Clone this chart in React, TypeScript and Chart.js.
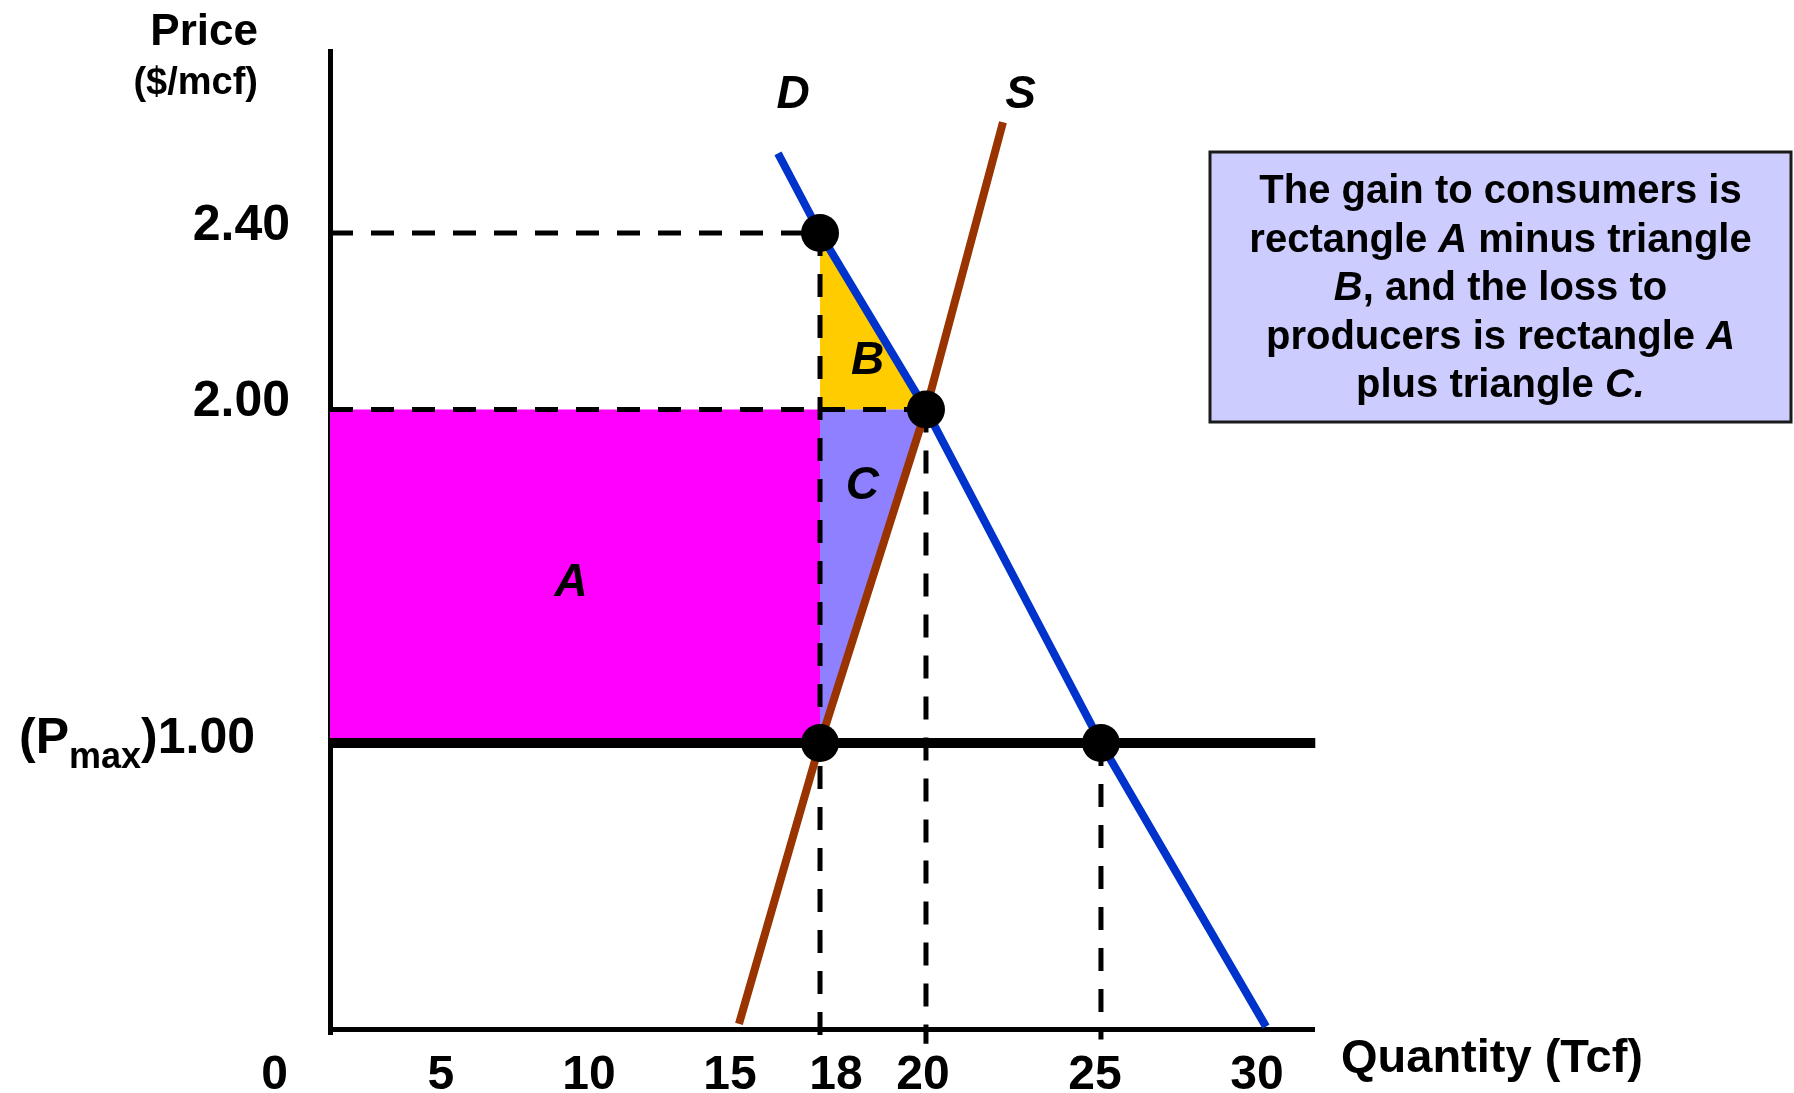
import React, { useEffect, useRef } from 'react';
import { Chart, registerables, LinearScale } from 'chart.js';

// Natural gas price ceiling: demand, supply and the welfare areas A, B, C.

const Q_TICKS = [0, 5, 10, 15, 18, 20, 25, 30]; // Tcf
const P_TICKS = [1.0, 2.0, 2.4]; // $/mcf

const DEMAND_Q = [16.6, 18, 20, 25, 30];
const DEMAND_P = [2.58, 2.4, 2.0, 1.0, 0.01];
const SUPPLY_Q = [15.3, 18, 20, 22.2];
const SUPPLY_P = [0.02, 1.0, 2.0, 2.65];

const P_MAX = 1.0;
const Q_LIMIT = 31.5;

// marked points: demand at 18, equilibrium, supply at Pmax, demand at Pmax
const MARKED_Q = [18, 20, 18, 25];
const MARKED_P = [2.4, 2.0, 1.0, 1.0];

// dashed guide lines
const GUIDE_H_P = [2.4, 2.0];
const GUIDE_H_Q = [18, 20];
const GUIDE_V_Q = [18, 20, 25];
const GUIDE_V_TOP = [2.4, 2.0, 1.0];
const GUIDE_V_BOTTOM = [-0.03, -0.05, -0.035];

// area labels and curve labels
const TAGS = ['A', 'B', 'C', 'D', 'S'];
const TAG_Q = [9.4, 18.9, 18.8, 17.1, 22.7];
const TAG_P = [1.48, 2.11, 1.77, 2.71, 2.71];

const NOTE_LINES: [string, boolean][][] = [
  [['The gain to consumers is', false]],
  [['rectangle ', false], ['A', true], [' minus triangle', false]],
  [['B', true], [', and the loss to', false]],
  [['producers is rectangle ', false], ['A', true]],
  [['plus triangle ', false], ['C.', true]],
];

const FONT = "'Liberation Sans', Arial, Helvetica, sans-serif";

function interp(xs: number[], ys: number[], v: number): number {
  const n = xs.length;
  let i = 1;
  while (i < n - 1 && v > xs[i]) i++;
  const x0 = xs[i - 1];
  const x1 = xs[i];
  return ys[i - 1] + ((v - x0) * (ys[i] - ys[i - 1])) / (x1 - x0);
}

// Linear scale whose value-to-position mapping is piecewise linear between knots
class PiecewiseScale extends LinearScale {
  static id = 'piecewise';
  static defaults = {};

  getPixelForValue(value: number) {
    if (value === null || value === undefined || Number.isNaN(value)) return NaN;
    const o: any = this.options;
    return this.getPixelForDecimal(interp(o.knots, o.fractions, value));
  }

  getValueForPixel(pixel: number) {
    const o: any = this.options;
    return interp(o.fractions, o.knots, this.getDecimalForPixel(pixel));
  }

  getPixelForTick(index: number) {
    const ticks = this.ticks;
    if (index < 0 || index > ticks.length - 1) return null as any;
    const v = ticks[index].value;
    const shifts: any = (this.options as any).labelShift || {};
    const s = shifts[String(v)];
    return this.getPixelForValue(v) + (typeof s === 'number' ? s : 0);
  }
}

Chart.register(...registerables, PiecewiseScale);

const pts = (qs: number[], ps: number[]) => qs.map((q, i) => ({ x: q, y: ps[i] }));

const diagramText = {
  id: 'diagramText',
  afterDraw(chart: any) {
    const ctx: CanvasRenderingContext2D = chart.ctx;
    const xs = chart.scales.x;
    const ys = chart.scales.y;
    const area = chart.chartArea;
    ctx.save();
    ctx.fillStyle = '#000';

    // axis titles
    ctx.textAlign = 'right';
    ctx.textBaseline = 'alphabetic';
    ctx.font = `bold 44px ${FONT}`;
    ctx.fillText('Price', area.left - 72, 45);
    ctx.font = `bold 38px ${FONT}`;
    ctx.fillText('($/mcf)', area.left - 72, 94);
    ctx.textAlign = 'left';
    ctx.font = `bold 47px ${FONT}`;
    ctx.fillText('Quantity (Tcf)', area.right + 29, area.bottom + 42.5);

    // price ceiling tick label with subscript
    const yMax = ys.getPixelForValue(P_MAX) + 10;
    let right = area.left - 75;
    ctx.textAlign = 'right';
    ctx.font = `bold 50px ${FONT}`;
    const tail = ')' + P_MAX.toFixed(2);
    ctx.fillText(tail, right, yMax);
    right -= ctx.measureText(tail).width;
    ctx.font = `bold 36px ${FONT}`;
    ctx.fillText('max', right, yMax + 15);
    right -= ctx.measureText('max').width;
    ctx.font = `bold 50px ${FONT}`;
    ctx.fillText('(P', right, yMax);

    // area and curve labels
    ctx.textAlign = 'center';
    ctx.textBaseline = 'middle';
    ctx.font = `italic bold 46px ${FONT}`;
    TAGS.forEach((t, i) => {
      ctx.fillText(t, xs.getPixelForValue(TAG_Q[i]), ys.getPixelForValue(TAG_P[i]));
    });

    // explanatory note
    const bx = 1210;
    const by = 152;
    const bw = 581;
    const bh = 270;
    ctx.fillStyle = '#CCCCFF';
    ctx.fillRect(bx, by, bw, bh);
    ctx.strokeStyle = '#1a1a1a';
    ctx.lineWidth = 3;
    ctx.strokeRect(bx, by, bw, bh);
    ctx.fillStyle = '#000';
    ctx.textAlign = 'left';
    ctx.textBaseline = 'alphabetic';
    const cx = bx + bw / 2;
    NOTE_LINES.forEach((line, li) => {
      const widths = line.map(([s, it]) => {
        ctx.font = `${it ? 'italic ' : ''}bold 40px ${FONT}`;
        return ctx.measureText(s).width;
      });
      const total = widths.reduce((a, b) => a + b, 0);
      let x = cx - total / 2;
      const base = by + 51 + li * 48.5;
      line.forEach(([s, it], k) => {
        ctx.font = `${it ? 'italic ' : ''}bold 40px ${FONT}`;
        ctx.fillText(s, x, base);
        x += widths[k];
      });
    });
    ctx.restore();
  },
};

export default function App() {
  const ref = useRef<HTMLCanvasElement>(null);

  useEffect(() => {
    const canvas = ref.current;
    if (!canvas) return;

    const guide = (data: { x: number; y: number }[]) => ({
      data,
      borderColor: '#000',
      borderWidth: 5,
      borderDash: [23, 18],
      pointRadius: 0,
      pointHoverRadius: 0,
      fill: false,
      clip: false as any,
    });

    const guidesH = GUIDE_H_P.map((p, i) => guide([{ x: 0, y: p }, { x: GUIDE_H_Q[i], y: p }]));
    const guidesV = GUIDE_V_Q.map((q, i) =>
      guide([{ x: q, y: GUIDE_V_TOP[i] }, { x: q, y: GUIDE_V_BOTTOM[i] }])
    );

    const area = (data: { x: number; y: number }[], base: number, color: string) => ({
      data,
      borderColor: 'transparent',
      borderWidth: 0,
      backgroundColor: color,
      pointRadius: 0,
      pointHoverRadius: 0,
      fill: { value: base },
    });

    const noPadding = (s: any) => {
      s.paddingTop = 0;
      s.paddingBottom = 0;
      s.paddingLeft = 0;
      s.paddingRight = 0;
    };

    const chart = new Chart(canvas, {
      type: 'line',
      data: {
        datasets: [
          {
            data: pts(MARKED_Q, MARKED_P),
            showLine: false,
            pointRadius: 19,
            pointHoverRadius: 19,
            pointBackgroundColor: '#000',
            pointBorderWidth: 0,
            clip: false as any,
          },
          {
            data: pts(SUPPLY_Q, SUPPLY_P),
            borderColor: '#993300',
            borderWidth: 8,
            pointRadius: 0,
            pointHoverRadius: 0,
            tension: 0,
            fill: false,
            clip: false as any,
          },
          {
            data: pts(DEMAND_Q, DEMAND_P),
            borderColor: '#0033CC',
            borderWidth: 8,
            pointRadius: 0,
            pointHoverRadius: 0,
            tension: 0,
            fill: false,
            clip: false as any,
          },
          {
            data: [
              { x: 0, y: P_MAX },
              { x: Q_LIMIT, y: P_MAX },
            ],
            borderColor: '#000',
            borderWidth: 10,
            pointRadius: 0,
            pointHoverRadius: 0,
            fill: false,
            clip: false as any,
          },
          ...guidesH,
          ...guidesV,
          // C: between supply and the equilibrium price, from 18 to 20
          area(
            [
              { x: MARKED_Q[2], y: MARKED_P[2] },
              { x: MARKED_Q[1], y: MARKED_P[1] },
            ],
            MARKED_P[1],
            '#8F80FF'
          ),
          // B: between demand and the equilibrium price, from 18 to 20
          area(
            [
              { x: MARKED_Q[0], y: MARKED_P[0] },
              { x: MARKED_Q[1], y: MARKED_P[1] },
            ],
            MARKED_P[1],
            '#FFCC00'
          ),
          // A: rectangle between Pmax and the equilibrium price, from 0 to 18
          area(
            [
              { x: 0, y: MARKED_P[1] },
              { x: MARKED_Q[2], y: MARKED_P[1] },
            ],
            P_MAX,
            '#FF00FF'
          ),
        ] as any,
      },
      options: {
        animation: false,
        responsive: false,
        events: [],
        layout: { padding: { left: 0, top: 51.5, right: 482, bottom: 0 } },
        plugins: {
          legend: { display: false },
          tooltip: { enabled: false },
        },
        scales: {
          x: {
            type: 'piecewise' as any,
            min: 0,
            max: 31.4,
            knots: [0, 5, 10, 15, 18, 20, 25, 30, 31.4],
            fractions: [0, 0.113, 0.2637, 0.4073, 0.499, 0.6069, 0.7851, 0.9532, 1],
            labelShift: { '0': -55.5, '18': 16, '20': -3, '25': -6, '30': -9 },
            afterFit: (s: any) => {
              s.height = 63.5;
              noPadding(s);
            },
            afterBuildTicks: (s: any) => {
              s.ticks = Q_TICKS.map((v) => ({ value: v }));
            },
            grid: { display: false, drawTicks: false, lineWidth: 5 },
            border: { display: true, color: '#000', width: 5 },
            ticks: {
              autoSkip: false,
              maxRotation: 0,
              minRotation: 0,
              padding: 17.5,
              color: '#000',
              font: { family: FONT, size: 48, weight: 'bold' },
              callback: (v: any) => String(v),
            },
          } as any,
          y: {
            type: 'piecewise' as any,
            min: 0,
            max: 2.81,
            knots: [0, 1, 2, 2.4, 2.81],
            fractions: [0, 0.2929, 0.6339, 0.8144, 1],
            afterFit: (s: any) => {
              s.width = 330;
              noPadding(s);
            },
            afterBuildTicks: (s: any) => {
              s.ticks = P_TICKS.map((v) => ({ value: v }));
            },
            grid: { display: false, drawTicks: false, lineWidth: 10 },
            border: { display: true, color: '#000', width: 5 },
            ticks: {
              autoSkip: false,
              padding: 40,
              labelOffset: -7,
              color: '#000',
              font: { family: FONT, size: 50, weight: 'bold' },
              callback: (v: any) => (Number(v) === P_MAX ? '' : Number(v).toFixed(2)),
            },
          } as any,
        },
      },
      plugins: [diagramText as any],
    });

    return () => chart.destroy();
  }, []);

  return (
    <div
      style={{
        position: 'absolute',
        left: 0,
        top: 0,
        width: 1794,
        height: 1093,
        background: '#fff',
      }}
    >
      <canvas ref={ref} width={1794} height={1093} style={{ display: 'block', width: 1794, height: 1093 }} />
    </div>
  );
}
